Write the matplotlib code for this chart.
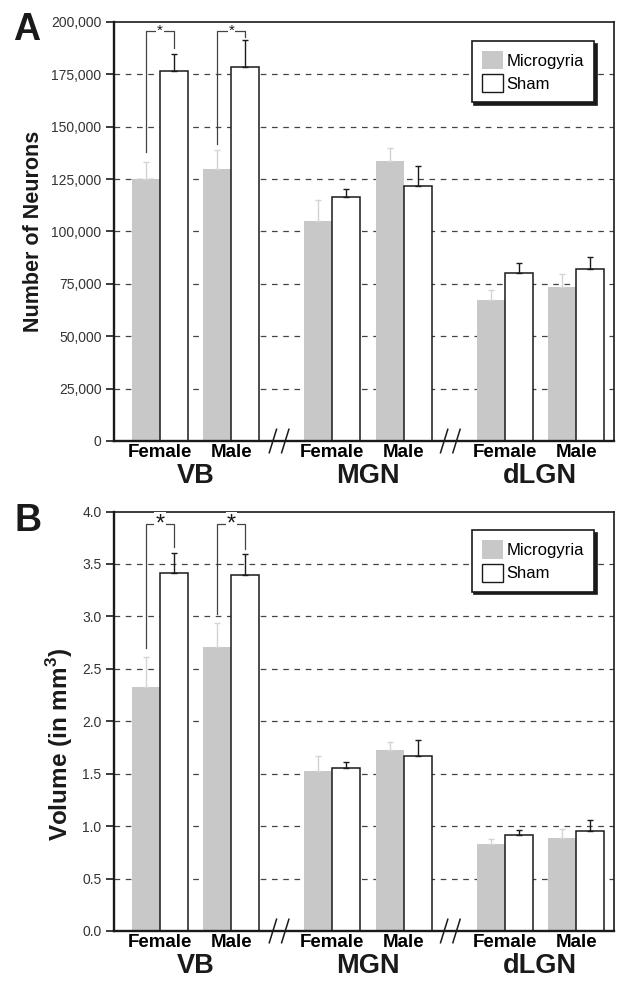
import matplotlib
matplotlib.use("Agg")
import matplotlib.pyplot as plt
import numpy as np
from matplotlib.patches import Patch

plt.rcParams['font.family'] = ['Liberation Sans', 'DejaVu Sans']
plt.rcParams['mathtext.fontset'] = 'custom'
plt.rcParams['mathtext.rm'] = 'Liberation Sans'
plt.rcParams['mathtext.bf'] = 'Liberation Sans:bold'

# categories
groups = ["VB", "MGN", "dLGN"]
sexes = ["Female", "Male"]

# panel A - number of neurons (Female, Male per group)
neurons_micro = [125000, 130000, 105000, 133500, 67500, 73500]
neurons_micro_err = [8000, 9000, 10000, 6300, 4500, 6000]
neurons_sham = [176700, 178500, 116300, 121700, 80000, 82200]
neurons_sham_err = [8000, 12900, 4000, 9600, 5000, 5800]

# panel B - volume in mm3
volume_micro = [2.33, 2.71, 1.53, 1.73, 0.83, 0.885]
volume_micro_err = [0.28, 0.23, 0.14, 0.07, 0.05, 0.085]
volume_sham = [3.41, 3.39, 1.555, 1.67, 0.92, 0.955]
volume_sham_err = [0.19, 0.20, 0.055, 0.15, 0.045, 0.10]

# significance brackets: (pair index, left leg bottom, right leg bottom, top)
neurons_sig = [(0, 138000, 187500, 195700), (1, 142000, 193000, 195700)]
volume_sig = [(0, 2.70, 3.66, 3.88), (1, 3.02, 3.64, 3.88)]

# x layout (bar width = 1)
pair_x = np.array([0, 2.55, 6.15, 8.7, 12.3, 14.85])
break_x = [4.25, 10.36]

micro_color = '#c8c8c8'
micro_err_color = '#d4d4d4'
ink = '#1a1a1a'

fig = plt.figure(figsize=(6.31, 9.9), dpi=100)
axA = fig.add_axes([114/631, 1 - 441/990, 500/631, 419/990])
axB = fig.add_axes([114/631, 1 - 931/990, 500/631, 419.5/990])


def draw_panel(ax, micro, micro_err, sham, sham_err, sig, ymax, step, fmt,
               ylabel, ylabel_size, ylabel_y, star_size):
    n = len(micro)
    ax.bar(pair_x - 0.5, micro, width=1.0, color=micro_color, edgecolor='none', zorder=2)
    ax.errorbar(pair_x - 0.5, micro, yerr=[np.zeros(n), micro_err], fmt='none',
                ecolor=micro_err_color, elinewidth=1.0, capsize=2.5, capthick=1.0, zorder=3)
    ax.bar(pair_x + 0.5, sham, width=1.0, color='white', edgecolor=ink, linewidth=1.1, zorder=2)
    ax.errorbar(pair_x + 0.5, sham, yerr=[np.zeros(n), sham_err], fmt='none',
                ecolor=ink, elinewidth=1.0, capsize=2.5, capthick=1.0, zorder=3)

    # dashed grid
    for y in np.arange(step, ymax, step):
        ax.axhline(y, color='#444444', lw=0.9, ls=(0, (4.5, 4.5)), zorder=1)

    # significance brackets
    for i, yl, yr, top in sig:
        xl, xr = pair_x[i] - 0.5, pair_x[i] + 0.5
        ax.plot([xl, xl, xr, xr], [yl, top, top, yr], color='#444444', lw=0.9, zorder=4)
        ax.text((xl + xr) / 2, top, '*', ha='center', va='center', fontsize=star_size,
                color=ink, zorder=5,
                bbox=dict(boxstyle='square,pad=0.05', fc='white', ec='none'))

    ax.set_xlim(-1.64, 16.2)
    ax.set_ylim(0, ymax)
    ax.set_yticks(np.arange(0, ymax + step / 2, step))
    ax.yaxis.set_major_formatter(matplotlib.ticker.FuncFormatter(fmt))
    ax.tick_params(axis='y', direction='out', length=6, width=1.2, labelsize=10, pad=3,
                   color=ink, labelcolor='#333333')

    ax.set_xticks(pair_x)
    ax.set_xticklabels(sexes * 3, fontsize=13.5, fontweight='bold')
    ax.tick_params(axis='x', length=0, pad=2)

    for k, g in enumerate(groups):
        cx = (pair_x[2 * k] + pair_x[2 * k + 1]) / 2
        ax.text(cx, -0.084, g, transform=ax.get_xaxis_transform(), ha='center', va='center',
                fontsize=19.5, fontweight='bold', color=ink)

    # axis break marks
    for bx in break_x:
        for dx in (-0.22, 0.22):
            ax.plot([bx + dx - 0.13, bx + dx + 0.13], [-0.028, 0.028],
                    transform=ax.get_xaxis_transform(), color=ink, lw=1.1, clip_on=False, zorder=6)

    for side in ['left', 'bottom']:
        ax.spines[side].set_linewidth(1.7)
        ax.spines[side].set_color(ink)
    for side in ['top', 'right']:
        ax.spines[side].set_linewidth(1.2)
        ax.spines[side].set_color(ink)

    ax.set_ylabel(ylabel, fontsize=ylabel_size, fontweight='bold', color=ink, labelpad=5)
    ax.yaxis.label.set_y(ylabel_y)

    handles = [Patch(facecolor=micro_color, edgecolor='none', label='Microgyria'),
               Patch(facecolor='white', edgecolor=ink, linewidth=1.0, label='Sham')]
    leg = ax.legend(handles=handles, loc='upper right', bbox_to_anchor=(0.96, 0.955),
                    borderaxespad=0, fontsize=12, fancybox=False, framealpha=1,
                    edgecolor=ink, handlelength=1.3, handleheight=1.3, handletextpad=0.2,
                    labelspacing=0.3, borderpad=0.6,
                    shadow={'color': ink, 'alpha': 1.0})
    leg.get_frame().set_linewidth(1.2)
    leg.set_zorder(10)


draw_panel(axA, neurons_micro, neurons_micro_err, neurons_sham, neurons_sham_err,
           neurons_sig, 200000, 25000, lambda v, p: f"{int(v):,}",
           "Number of Neurons", 15.5, 0.5, 11)
draw_panel(axB, volume_micro, volume_micro_err, volume_sham, volume_sham_err,
           volume_sig, 4.0, 0.5, lambda v, p: f"{v:.1f}",
           "Volume (in mm$^{\\mathbf{3}}$)", 17.5, 0.445, 17)

fig.text(27/631, 1 - 30/990, 'A', fontsize=27, fontweight='bold', ha='center', va='center', color=ink)
fig.text(28/631, 1 - 521/990, 'B', fontsize=27, fontweight='bold', ha='center', va='center', color=ink)

fig.savefig('out.png', dpi=100)
